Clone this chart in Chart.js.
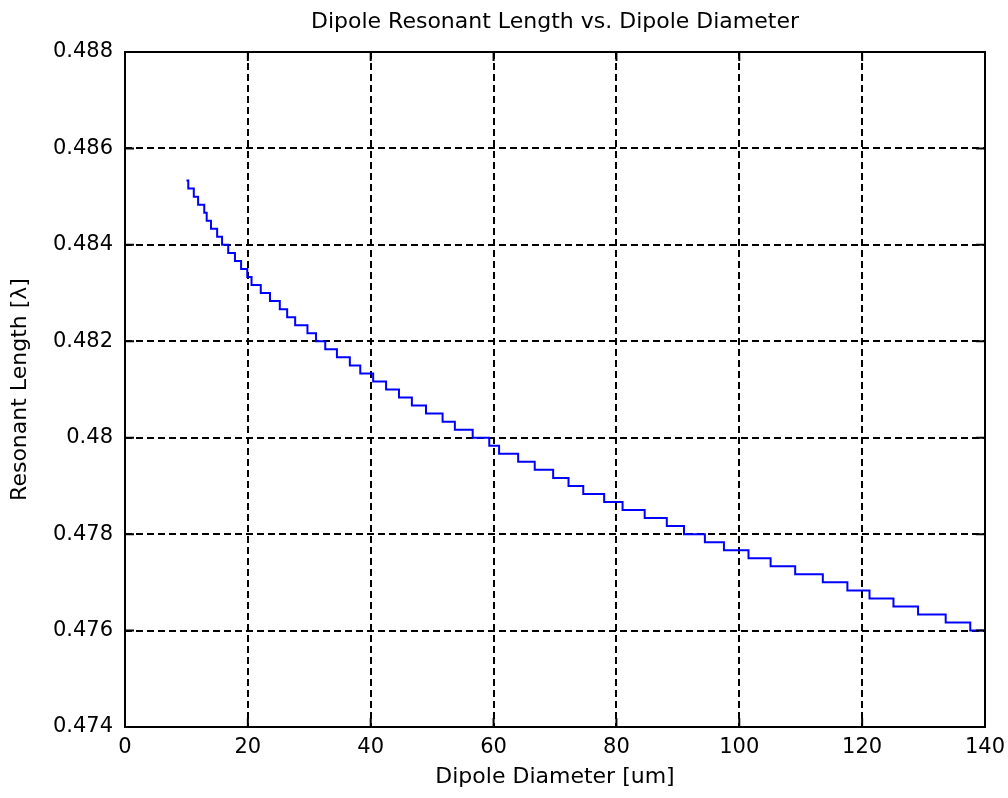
<!DOCTYPE html>
<html>
<head>
<meta charset="utf-8">
<script src="https://cdn.jsdelivr.net/npm/chart.js@4.4.1/dist/chart.umd.min.js"></script>
<style>
  html, body { margin: 0; padding: 0; background: #fff; }
  #wrap { width: 1008px; height: 798px; }
</style>
</head>
<body>
<div id="wrap"><canvas id="chart" width="1008" height="798"></canvas></div>
<script>
// Dipole diameter [um] where each resonant length level begins
const diameters = [
  10, 10.3, 11.2, 11.9, 12.9, 13.3, 14.0, 15.0, 15.8, 16.8,
  17.9, 18.9, 19.9, 20.6, 22.1, 23.6, 25.2, 26.4, 27.7, 29.7,
  31.1, 32.6, 34.5, 36.6, 38.3, 40.4, 42.5, 44.6, 46.7, 49.0,
  51.7, 53.7, 56.6, 59.3, 60.9, 64.0, 66.7, 69.7, 72.2, 74.6,
  78.0, 81.0, 84.6, 88.2, 91.0, 94.4, 97.5, 101.5, 105.1, 109.1,
  113.6, 117.6, 121.2, 125.1, 129.1, 133.6, 137.6, 140
];

// Resonant length [wavelengths] for each level
const lengths = [
  0.485333, 0.485167, 0.485, 0.484833, 0.484667, 0.4845, 0.484333, 0.484167, 0.484, 0.483833,
  0.483667, 0.4835, 0.483333, 0.483167, 0.483, 0.482833, 0.482667, 0.4825, 0.482333, 0.482167,
  0.482, 0.481833, 0.481667, 0.4815, 0.481333, 0.481167, 0.481, 0.480833, 0.480667, 0.4805,
  0.480333, 0.480167, 0.48, 0.479833, 0.479667, 0.4795, 0.479333, 0.479167, 0.479, 0.478833,
  0.478667, 0.4785, 0.478333, 0.478167, 0.478, 0.477833, 0.477667, 0.4775, 0.477333, 0.477167,
  0.477, 0.476833, 0.476667, 0.4765, 0.476333, 0.476167, 0.476, 0.476
];

const xTicks = [0, 20, 40, 60, 80, 100, 120, 140];
const yTicks = [0.474, 0.476, 0.478, 0.48, 0.482, 0.484, 0.486, 0.488];

const FONT = "'DejaVu Sans', 'Liberation Sans', sans-serif";

// Axes box with small inward tick marks on all four sides
const boxPlugin = {
  id: "axesBox",
  afterDraw(chart) {
    const { ctx, chartArea: a, scales } = chart;
    const len = 9;
    ctx.save();
    ctx.strokeStyle = "#000";
    ctx.lineWidth = 2;
    ctx.beginPath();
    xTicks.forEach((v) => {
      const px = scales.x.getPixelForValue(v);
      ctx.moveTo(px, a.bottom);
      ctx.lineTo(px, a.bottom - len);
      ctx.moveTo(px, a.top);
      ctx.lineTo(px, a.top + len);
    });
    yTicks.forEach((v) => {
      const py = scales.y.getPixelForValue(v);
      ctx.moveTo(a.left, py);
      ctx.lineTo(a.left + len, py);
      ctx.moveTo(a.right, py);
      ctx.lineTo(a.right - len, py);
    });
    ctx.stroke();
    ctx.strokeRect(a.left, a.top, a.right - a.left, a.bottom - a.top);
    ctx.restore();
  },
};

const points = diameters.map((d, i) => ({ x: d, y: lengths[i] }));

new Chart(document.getElementById("chart"), {
  type: "line",
  data: {
    datasets: [
      {
        data: points,
        borderColor: "#0000ff",
        borderWidth: 2,
        pointRadius: 0,
        stepped: true,
        fill: false,
      },
    ],
  },
  options: {
    responsive: false,
    animation: false,
    layout: { padding: { left: 0, right: 23, top: 0, bottom: 0 } },
    plugins: {
      legend: { display: false },
      tooltip: { enabled: false },
      title: {
        display: true,
        text: "Dipole Resonant Length vs. Dipole Diameter",
        color: "#000",
        fullSize: false,
        font: { family: FONT, size: 22, weight: "normal" },
        padding: { top: 9, bottom: 16.6 },
      },
    },
    scales: {
      x: {
        type: "linear",
        min: 0,
        max: 140,
        afterFit(scale) {
          scale.height = 71;
          scale.paddingLeft = 0;
          scale.paddingRight = 0;
        },
        afterBuildTicks(scale) {
          scale.ticks = xTicks.map((v) => ({ value: v }));
        },
        ticks: {
          color: "#000",
          font: { family: FONT, size: 21 },
          padding: 8,
          maxRotation: 0,
        },
        grid: { color: "#000", lineWidth: 2, drawTicks: false },
        border: { display: false, dash: [7, 4] },
        title: {
          display: true,
          text: "Dipole Diameter [um]",
          color: "#000",
          font: { family: FONT, size: 22 },
          padding: { bottom: 8 },
        },
      },
      y: {
        type: "linear",
        min: 0.474,
        max: 0.488,
        afterFit(scale) {
          scale.width = 125;
        },
        afterBuildTicks(scale) {
          scale.ticks = yTicks.map((v) => ({ value: v }));
        },
        ticks: {
          color: "#000",
          font: { family: FONT, size: 21 },
          padding: 12,
          callback: (v) => String(parseFloat(Number(v).toFixed(3))),
        },
        grid: { color: "#000", lineWidth: 2, drawTicks: false },
        border: { display: false, dash: [7, 4] },
        title: {
          display: true,
          text: "Resonant Length [λ]",
          color: "#000",
          font: { family: FONT, size: 22 },
          padding: { top: 7 },
        },
      },
    },
  },
  plugins: [boxPlugin],
});
</script>
</body>
</html>
